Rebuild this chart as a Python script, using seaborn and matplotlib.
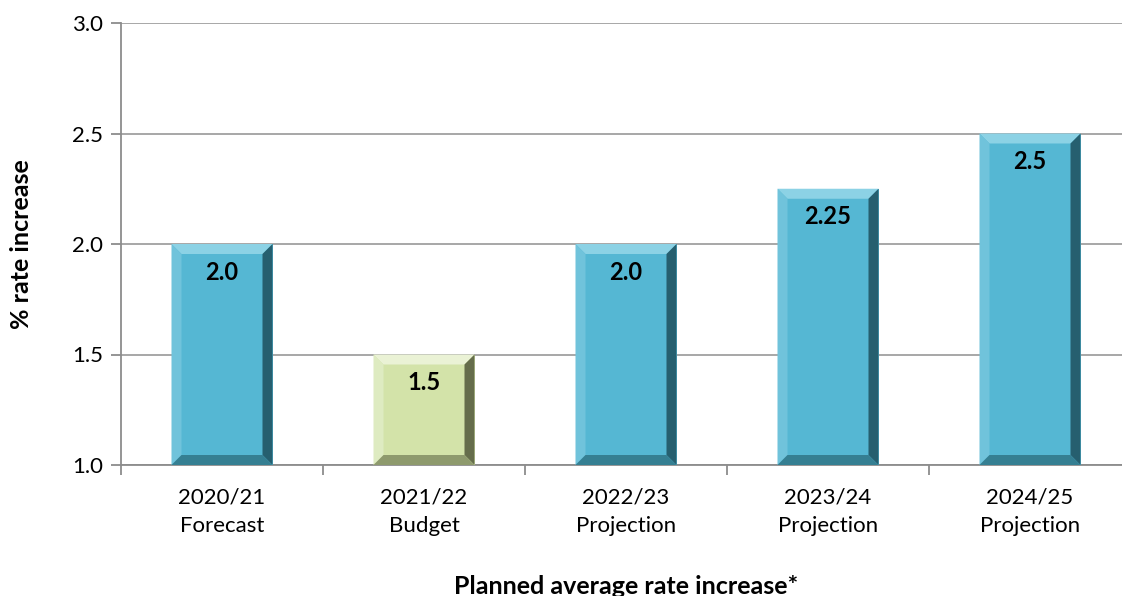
import matplotlib
matplotlib.use("Agg")
import matplotlib.pyplot as plt
from matplotlib.patches import Polygon
import numpy as np
import pandas as pd
import seaborn as sns

sns.set_theme(style="white")
plt.rcParams['font.family'] = ['Lato', 'DejaVu Sans']
plt.rcParams['text.color'] = 'black'
plt.rcParams['xtick.color'] = 'black'
plt.rcParams['ytick.color'] = 'black'
plt.rcParams['axes.labelcolor'] = 'black'

# data
periods = ["2020/21\nForecast", "2021/22\nBudget", "2022/23\nProjection",
           "2023/24\nProjection", "2024/25\nProjection"]
rates = [2.0, 1.5, 2.0, 2.25, 2.5]
rate_labels = ["2.0", "1.5", "2.0", "2.25", "2.5"]
kinds = ["Forecast", "Budget", "Projection", "Projection", "Projection"]

df = pd.DataFrame({"period": periods, "rate": rates, "kind": kinds})

face = {"Forecast": "#55B7D3", "Budget": "#D3E3A9", "Projection": "#55B7D3"}
# top, left, right, bottom bevel shades
bevel = {
    "#55B7D3": ["#8CD2E5", "#70C3DB", "#265F6F", "#357F92"],
    "#D3E3A9": ["#EAF2D5", "#DEEBC1", "#656D4B", "#8E9A6D"],
}

W, H = 1122, 596
fig = plt.figure(figsize=(W / 100, H / 100), dpi=100)
ax = fig.add_axes([121 / W, 131 / H, 1010 / W, 442 / H])

sns.barplot(data=df, x="period", y="rate", hue="kind", palette=face,
            width=0.5, dodge=False, legend=False, ax=ax, zorder=3,
            linewidth=0, saturation=1)

ax.set_ylim(1.0, 3.0)
ax.set_xlim(-0.5, 4.5)
ax.set_yticks([1.0, 1.5, 2.0, 2.5, 3.0])
ax.set_yticklabels(["1.0", "1.5", "2.0", "2.5", "3.0"])
ax.yaxis.grid(True, color="#A0A0A0", linewidth=1.3, zorder=0)
ax.set_axisbelow(True)

for s in ["top", "right"]:
    ax.spines[s].set_visible(False)
for s in ["left", "bottom"]:
    ax.spines[s].set_color("#8C8C8C")
    ax.spines[s].set_linewidth(1.3)

ax.set_xticks(np.arange(-0.5, 5.0, 1.0), minor=True)
ax.tick_params(axis="x", which="major", length=0, labelsize=16, pad=16,
               labelcolor="black")
ax.tick_params(axis="x", which="minor", length=7, width=1.3, color="#8C8C8C",
               direction="out", bottom=True)
ax.tick_params(axis="y", length=7, width=1.3, color="#8C8C8C", left=True,
               direction="out", labelsize=16, pad=6, labelcolor="black")
for lab in ax.get_xticklabels():
    lab.set_linespacing(1.55)

ax.set_xlabel("Planned average rate increase*", fontsize=18,
              fontweight="bold", labelpad=28)
ax.set_ylabel("% rate increase", fontsize=18, fontweight="bold", labelpad=28)

# bevel edges drawn over each bar
fig.canvas.draw()
inv = ax.transData.inverted()
ybot = ax.transData.transform((0, 1.0))[1]
b = 10
for p in ax.patches:
    x0, y0 = ax.transData.transform((p.get_x(), p.get_y()))
    x1, y1 = ax.transData.transform((p.get_x() + p.get_width(),
                                     p.get_y() + p.get_height()))
    y0 = max(y0, ybot)
    fc = matplotlib.colors.to_hex(p.get_facecolor()).upper()
    top, left, right, bottom = bevel[fc]
    shapes = [
        ([(x0, y1), (x1, y1), (x1 - b, y1 - b), (x0 + b, y1 - b)], top),
        ([(x0, y0), (x0, y1), (x0 + b, y1 - b), (x0 + b, y0 + b)], left),
        ([(x1, y0), (x1, y1), (x1 - b, y1 - b), (x1 - b, y0 + b)], right),
        ([(x0, y0), (x1, y0), (x1 - b, y0 + b), (x0 + b, y0 + b)], bottom),
    ]
    for pts, c in shapes:
        ax.add_patch(Polygon(inv.transform(pts), closed=True, facecolor=c,
                             edgecolor="none", zorder=4))

for i, (v, t) in enumerate(zip(rates, rate_labels)):
    ax.annotate(t, (i, v), xytext=(0, -28), textcoords="offset pixels",
                ha="center", va="center", fontsize=17, fontweight="bold",
                color="black", zorder=5)

fig.savefig("out.png", dpi=100)
